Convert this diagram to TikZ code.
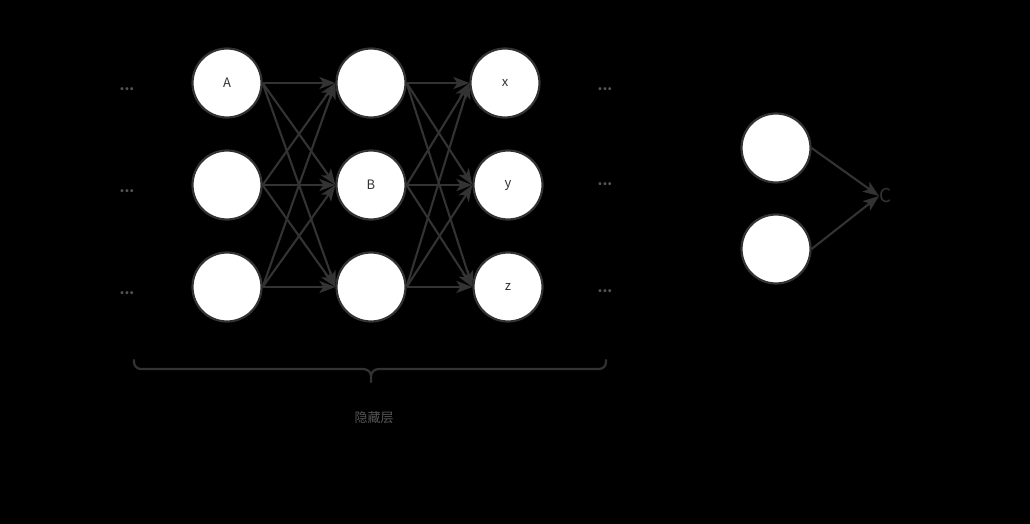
\documentclass[tikz,border=0pt]{standalone}
\usepackage{fontspec}
\setmainfont{Noto Sans CJK SC}
\usetikzlibrary{arrows.meta}
\definecolor{edgec}{RGB}{51,51,51}
\definecolor{dotc}{RGB}{85,85,85}
\tikzset{
  neuron/.style={circle, draw=edgec, line width=2.2pt, fill=white, minimum size=69pt, inner sep=0pt, font=\fontsize{13}{15}\selectfont, text=edgec},
  conn/.style={draw=edgec, line width=2.1pt, -{Stealth[length=16pt,width=12pt,inset=4pt]}},
  dots/.style={text=dotc, font=\fontsize{14}{16}\bfseries\selectfont, inner sep=0pt},
  bracec/.style={draw=edgec, line width=2.2pt},
}
\begin{document}
\begin{tikzpicture}[x=1pt,y=-1pt]
\fill[black] (0,0) rectangle (1030,524);
\useasboundingbox (0,0) rectangle (1030,524);
% column 1
\node[neuron] (a1) at (227,83) {A};
\node[neuron] (a2) at (227,185) {};
\node[neuron] (a3) at (227,287) {};
% column 2
\node[neuron] (b1) at (371,83) {};
\node[neuron] (b2) at (371,185) {B};
\node[neuron] (b3) at (371,287) {};
% column 3
\node[neuron] (c1) at (505,83) {x};
\node[neuron] (c2) at (508,185) {y};
\node[neuron] (c3) at (508,287) {z};
% dots
\node[dots] (dl1) at (127,89) {...};
\node[dots] (dl2) at (127,191) {...};
\node[dots] (dl3) at (127,293) {...};
\node[dots] (dr1) at (605,89) {...};
\node[dots] (dr2) at (605,184) {...};
\node[dots] (dr3) at (605,291) {...};
% connections
\foreach \i in {1,2,3}{
  \foreach \j in {1,2,3}{
    \draw[conn] (a\i.east) -- (b\j.west);
    \draw[conn] (b\i.east) -- (c\j.west);
  }
}
% right part
\node[neuron] (r1) at (776,148) {};
\node[neuron] (r2) at (776,249) {};
\node[text=edgec, font=\fontsize{19}{22}\selectfont, inner sep=0pt, anchor=west] (cc) at (879,196) {C};
\draw[conn] (r1.east) -- (cc.west);
\draw[conn] (r2.east) -- (cc.west);
% brace
\draw[bracec, line cap=round, line join=round]
  (134,360) -- (134,362) to[out=-90,in=180] (141,369) -- (363,369) to[out=0,in=90] (371,376) -- (371,382);
\draw[bracec, line cap=round, line join=round]
  (371,376) to[out=90,in=180] (379,369) -- (599,369) to[out=0,in=-90] (606,362) -- (606,360);
\node[text=dotc, font=\fontsize{13}{15}\selectfont] (hid) at (374,418) {隐藏层};
\end{tikzpicture}
\end{document}
